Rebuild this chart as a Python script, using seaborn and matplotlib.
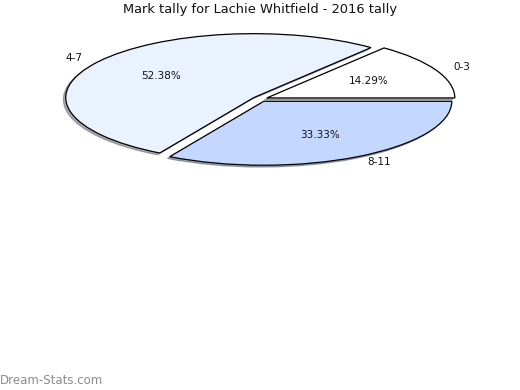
import matplotlib
matplotlib.use('Agg')
import matplotlib.pyplot as plt
import seaborn as sns

sns.set_theme(style='white')
plt.rcParams['font.family'] = ['DejaVu Sans']

# dados
faixas = ['0-3', '4-7', '8-11']
contagem = [3, 11, 7]
cores = ['#ffffff', '#eaf1ff', '#c4d8ff']
explosao = [0.04, 0.04, 0.04]

fig = plt.figure(figsize=(5.2, 3.9), dpi=100)
ax = fig.add_axes([0.048, 0.541, 0.904, 0.41])

ax.pie(contagem, labels=faixas, colors=cores, explode=explosao,
       autopct='%.2f%%', pctdistance=0.6, labeldistance=1.1,
       startangle=0, counterclock=True,
       shadow={'ox': -0.009, 'oy': -0.02, 'shade': 0.6},
       wedgeprops={'edgecolor': 'black', 'linewidth': 0.9},
       textprops={'fontsize': 7.5, 'color': '#111111'})
ax.set_aspect('auto')
ax.set_xlim(-1.25, 1.25)
ax.set_ylim(-1.25, 1.25)

fig.text(0.5, 0.992, 'Mark tally for Lachie Whitfield - 2016 tally',
         ha='center', va='top', fontsize=9.4, color='#111111')
fig.text(0.0, 0.025, 'Dream-Stats.com', ha='left', va='center',
         fontsize=8.5, color='#8c8c8c')

fig.savefig('out.png', dpi=100)
